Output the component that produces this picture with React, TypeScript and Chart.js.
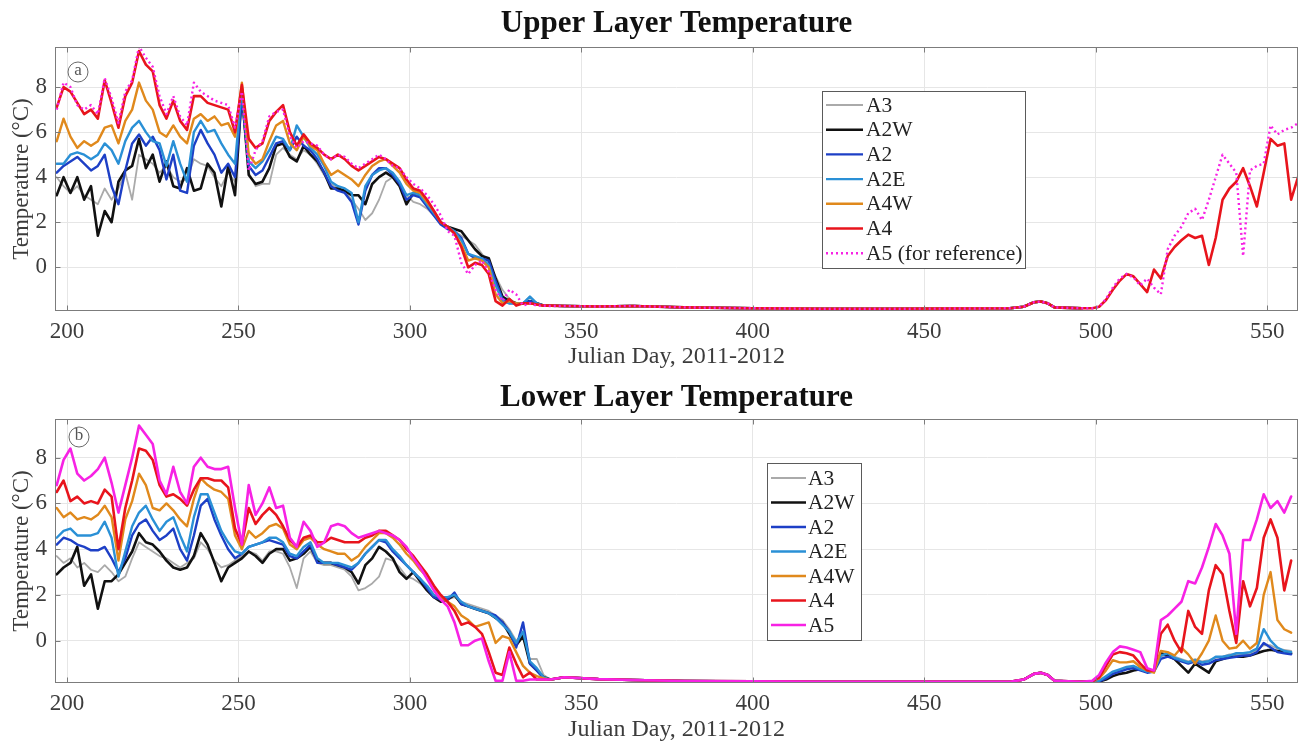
import React, { useEffect, useRef } from "react";
import { Chart, registerables } from "chart.js";

Chart.register(...registerables);

// ---------- shared x grids (Julian day) ----------
const DAYS_AUTUMN = [
  197, 199, 201, 203, 205, 207, 209, 211, 213, 215,
  217, 219, 221, 223, 225, 227, 229, 231, 233, 235,
  237, 239, 241, 243, 245, 247, 249, 251, 253, 255,
  257, 259, 261, 263, 265, 267, 269, 271, 273, 275,
  277, 279, 281, 283, 285, 287, 289, 291, 293, 295,
  297, 299, 301, 303, 305, 307, 309, 311, 313, 315,
  317, 319, 321, 323, 325, 327, 329, 331, 333, 335,
  337, 339, 341,
];
const DAYS_WINTER = [345, 355, 365, 380, 400, 420, 440, 460, 475, 479, 482, 484, 486, 488, 492, 496];
const DAYS_SPRING = [
  499, 501, 503, 505, 507, 509, 511, 513, 515, 517,
  519, 521, 523, 525, 527, 529, 531, 533, 535, 537,
  539, 541, 543, 545, 547, 549, 551, 553, 555, 557,
  559,
];

const X_TICKS = [200, 250, 300, 350, 400, 450, 500, 550];
const Y_TICKS = [0, 2, 4, 6, 8];

// ---------- Upper layer ----------
const U_A3 = [
  4.0, 3.6, 3.3, 3.6, 3.2, 3.0, 2.8, 3.5, 3.0, 3.5,
  4.2, 3.0, 5.0, 4.8, 4.6, 4.2, 4.5, 4.0, 3.8, 3.9,
  4.8, 4.6, 4.5, 4.0, 3.6, 4.2, 3.8, 7.4, 4.2, 3.6,
  3.7, 3.7, 5.0, 5.3, 5.0, 4.8, 5.2, 5.0, 4.6, 4.1,
  3.7, 3.5, 3.4, 3.0, 2.6, 2.1, 2.4, 3.0, 3.8, 4.0,
  3.7, 3.2, 2.9, 2.8, 2.6, 2.3, 2.0, 1.8, 1.6, 1.4,
  1.2, 1.0, 0.6, 0.2, -0.4, -1.0, -1.4, -1.6, -1.6, -1.3,
  -1.6, -1.7, -1.7,
];
const U_A2W = [
  3.2, 4.0, 3.3, 4.0, 3.0, 3.6, 1.4, 2.5, 2.0, 3.8,
  4.3, 4.5, 5.7, 4.4, 5.0, 3.8, 4.7, 3.6, 3.5, 4.4,
  3.4, 3.5, 4.6, 4.2, 2.7, 4.5, 3.2, 7.8, 4.1, 3.7,
  3.8, 4.4, 5.4, 5.5, 4.9, 4.7, 5.4, 5.0, 4.7, 4.2,
  3.5, 3.5, 3.4, 3.2, 3.2, 2.8, 3.7, 4.0, 4.2, 4.0,
  3.6, 2.8, 3.3, 3.2, 2.9, 2.4, 2.0, 1.8, 1.7, 1.6,
  1.2, 0.8, 0.5, 0.4, -0.5, -1.3, -1.5, -1.6, -1.6, -1.5,
  -1.6, -1.7, -1.7,
];
const U_A2 = [
  4.2, 4.5, 4.7, 4.9, 4.6, 4.3, 4.5, 5.0, 3.6, 2.8,
  4.3, 5.5, 5.9, 5.4, 5.8, 5.2, 3.9, 5.0, 3.4, 3.3,
  5.4, 6.1, 5.5, 5.0, 4.2, 4.6, 4.0, 7.6, 4.5, 4.1,
  4.3, 4.9, 5.5, 5.6, 5.2, 5.8, 5.4, 5.2, 4.8, 4.2,
  3.6, 3.4, 3.3, 2.9, 1.9, 3.4, 4.1, 4.4, 4.4, 4.1,
  3.7, 3.0, 3.2, 3.1, 2.7, 2.3, 1.9, 1.7, 1.6, 1.3,
  0.6, 0.4, 0.4, 0.3, -0.6, -1.4, -1.6, -1.6, -1.6, -1.5,
  -1.6, -1.7, -1.7,
];
const U_A2E = [
  4.6, 4.6, 5.0, 5.1, 5.0, 4.8, 5.0, 5.5, 5.2, 4.6,
  5.6, 6.2, 6.5, 6.0, 5.6, 5.5, 4.5, 5.6, 4.6, 3.8,
  6.0, 6.5, 6.0, 6.1, 5.5, 5.0, 4.6, 8.0, 4.7, 4.4,
  4.7, 5.2, 5.8, 5.7, 5.2, 6.3, 5.8, 5.3, 5.0, 4.5,
  3.8, 3.6, 3.5, 3.3, 2.0, 3.6, 4.1, 4.3, 4.4, 4.2,
  3.8, 3.2, 3.3, 3.2, 2.8, 2.4, 2.0, 1.8, 1.6, 1.2,
  0.6, 0.5, 0.4, 0.1, -0.8, -1.5, -1.6, -1.6, -1.6, -1.3,
  -1.6, -1.7, -1.7,
];
const U_A4W = [
  5.6, 6.6, 5.8, 5.3, 5.6, 5.4, 5.6, 6.2, 6.3, 5.5,
  6.5, 7.0, 8.2, 7.4, 7.0, 6.0, 5.8, 6.3, 5.8, 5.5,
  6.6, 6.8, 6.5, 6.7, 6.3, 6.4, 5.8, 8.2, 5.0, 4.6,
  4.8, 5.6, 6.3, 6.5, 5.5, 5.2, 5.8, 5.4, 5.2, 4.6,
  4.1, 4.3, 4.1, 3.9, 3.6, 4.1, 4.5, 4.7, 4.8, 4.5,
  4.2, 3.7, 3.4, 3.3, 2.9, 2.5, 2.0, 1.8, 1.5, 1.0,
  0.3, 0.4, 0.3, 0.0, -1.2, -1.6, -1.5, -1.6, -1.6, -1.6,
  -1.65, -1.7, -1.7,
];
const U_A4 = [
  7.1, 8.0, 7.8, 7.3, 6.8, 7.0, 6.6, 8.3, 7.3, 6.2,
  7.6, 8.2, 9.6, 9.0, 8.7, 7.2, 6.6, 7.4, 6.5, 6.1,
  7.6, 7.6, 7.3, 7.2, 7.1, 7.0, 6.0, 8.1, 5.7, 5.3,
  5.5, 6.5, 6.9, 7.2, 6.0, 5.4, 5.9, 5.5, 5.3, 5.0,
  4.8, 5.0, 4.8, 4.5, 4.3, 4.5, 4.7, 4.9, 4.8, 4.6,
  4.4, 3.9, 3.5, 3.4, 3.0, 2.5, 2.0, 1.8, 1.5, 0.9,
  0.0, 0.2, 0.1, -0.3, -1.5, -1.7, -1.4, -1.7, -1.6, -1.6,
  -1.65, -1.7, -1.7,
];
const U_A5 = [
  7.0, 8.2, 8.0, 7.2, 7.0, 7.2, 6.8, 8.4, 7.5, 6.4,
  7.8, 8.3, 9.8, 9.3, 8.9, 7.6, 6.8, 7.6, 6.7, 6.3,
  8.2, 7.8, 7.6, 7.4, 7.3, 7.2, 6.2, 7.8, 4.3, 5.2,
  5.6, 6.7, 6.9, 7.0, 5.8, 5.3, 5.6, 5.5, 5.4, 5.0,
  4.8, 5.0, 4.9, 4.6, 4.4, 4.6, 4.8, 5.0, 4.8, 4.5,
  4.4, 4.0, 3.7, 3.5, 3.2, 2.8, 2.3, 1.6, 1.4, 0.2,
  -0.3, 0.1, 0.3, -0.2, -1.0, -1.5, -1.0, -1.2, -1.7, -1.6,
  -1.7, -1.7, -1.72,
];
const U_WINTER = [-1.72, -1.74, -1.72, -1.78, -1.82, -1.84, -1.84, -1.83, -1.82, -1.75, -1.55, -1.52, -1.6, -1.78, -1.8, -1.82];
const U_A4_SPRING = [
  -1.82, -1.75, -1.45, -1.0, -0.6, -0.3, -0.4, -0.75, -1.1, -0.1,
  -0.5, 0.5, 0.9, 1.2, 1.45, 1.3, 1.4, 0.1, 1.3, 3.0,
  3.5, 3.8, 4.4, 3.6, 2.7, 4.2, 5.7, 5.4, 5.5, 3.0,
  4.0,
];
const U_A5_SPRING = [
  -1.82, -1.75, -1.4, -0.9, -0.5, -0.3, -0.45, -0.8, -0.5, -0.9,
  -1.2, 0.8, 1.4, 1.8, 2.4, 2.6, 2.1, 3.0, 4.0, 5.0,
  4.6, 4.2, 0.5, 4.3, 4.5, 4.6, 6.3, 5.9, 6.1, 6.2,
  6.4,
];

// ---------- Lower layer ----------
const L_A3 = [
  3.7, 3.4, 3.6, 3.2, 3.4, 3.1, 3.0, 3.3, 3.0, 2.6,
  2.8, 3.6, 4.3, 4.1, 3.9, 3.7, 3.6, 3.4, 3.2, 3.4,
  3.6, 4.3, 4.0, 3.5, 3.2, 3.3, 3.5, 3.7, 3.9, 3.8,
  3.5, 3.9, 3.9, 3.8, 3.2, 2.3, 3.6, 3.9, 3.4, 3.3,
  3.3, 3.2, 3.1, 2.8, 2.2, 2.3, 2.5, 2.8, 3.6, 3.5,
  3.2, 2.8, 2.7, 2.5, 2.2, 2.0, 1.8, 1.8, 1.9, 1.7,
  1.6, 1.5, 1.4, 1.3, 1.1, 0.9, 0.5, 0.0, 0.3, -0.8,
  -0.8, -1.5, -1.7,
];
const L_A2W = [
  2.9, 3.2, 3.4, 4.1, 2.4, 2.9, 1.4, 2.6, 2.6, 2.9,
  3.4, 3.9, 4.7, 4.3, 4.2, 3.9, 3.5, 3.2, 3.1, 3.2,
  3.7, 4.7, 4.2, 3.4, 2.6, 3.2, 3.4, 3.6, 3.9, 3.7,
  3.4, 3.8, 4.0, 4.0, 3.5, 3.6, 3.8, 4.1, 3.5, 3.4,
  3.4, 3.3, 3.2, 3.0, 2.5, 3.3, 3.6, 4.1, 3.9, 3.6,
  3.0, 2.7, 3.0, 2.6, 2.2, 1.9, 1.7, 1.8, 2.0, 1.6,
  1.5, 1.4, 1.3, 1.2, 1.0, 0.8, 0.3, -0.2, 0.2, -1.0,
  -1.3, -1.6, -1.7,
];
const L_A2 = [
  4.2, 4.5, 4.4, 4.2, 4.1, 3.95, 3.95, 4.1, 3.6, 3.0,
  3.6, 4.6, 5.1, 5.3, 4.8, 4.4, 4.6, 4.9, 4.0, 3.5,
  4.6, 5.9, 6.2, 5.3, 4.6, 4.0, 3.6, 3.8, 4.1, 4.2,
  4.3, 4.4, 4.3, 4.2, 3.7, 3.6, 3.9, 4.2, 3.4, 3.4,
  3.4, 3.3, 3.2, 3.1, 3.4, 3.8, 4.1, 4.4, 4.3, 3.9,
  3.6, 3.3, 3.0, 2.7, 2.3, 1.9, 1.8, 1.8, 2.1, 1.6,
  1.5, 1.4, 1.3, 1.2, 1.1, 0.8, 0.4, -0.3, 0.8, -1.0,
  -1.3, -1.65, -1.7,
];
const L_A2E = [
  4.5, 4.8, 4.9, 4.6, 4.6, 4.6, 4.7, 5.2, 4.5, 2.8,
  3.9, 5.0, 5.6, 5.9, 5.3, 4.8, 5.2, 5.4, 4.6, 3.9,
  5.4, 6.4, 6.4, 5.6, 4.8, 4.3, 3.9, 3.8, 4.1, 4.2,
  4.3, 4.5, 4.5, 4.3, 3.8, 3.7, 4.1, 4.3, 3.6, 3.4,
  3.4, 3.4, 3.3, 3.2, 3.4, 3.8, 4.1, 4.4, 4.4, 4.0,
  3.7, 3.3, 3.0, 2.7, 2.4, 2.0, 1.9, 1.9, 2.0, 1.7,
  1.5, 1.4, 1.3, 1.2, 1.0, 0.7, 0.4, -0.1, 0.4, -0.9,
  -1.2, -1.6, -1.7,
];
const L_A4W = [
  5.8, 5.4, 5.6, 5.3, 5.4, 5.3, 5.5, 5.9, 5.4, 3.5,
  5.3, 6.1, 7.3, 6.8, 5.8, 5.7, 6.0, 5.7, 5.3, 5.0,
  6.2, 7.1, 6.8, 6.6, 6.5, 6.2, 4.6, 4.0, 4.8, 4.5,
  4.7, 5.0, 5.1, 4.9, 4.2, 4.0, 4.4, 4.5, 4.2, 4.0,
  3.9, 3.8, 3.8, 3.5, 3.7, 4.1, 4.4, 4.7, 4.7, 4.5,
  4.2, 3.8, 3.5, 3.1, 2.8, 2.3, 1.9, 1.7, 1.5, 1.1,
  0.9, 0.6, 0.7, 0.8, -0.1, 0.2, 0.1, -0.5, -1.1, -1.4,
  -1.55, -1.65, -1.7,
];
const L_A4 = [
  6.5, 7.0, 6.1, 6.3, 6.0, 6.1, 6.0, 6.6, 6.3, 4.0,
  5.8, 7.0, 8.4, 8.3, 7.9, 6.8, 6.3, 6.4, 6.2, 5.9,
  6.6, 7.1, 7.1, 7.0, 7.0, 6.7, 4.9, 4.2, 5.8, 5.1,
  5.5, 5.8, 5.5, 5.0, 4.4, 4.1, 4.5, 4.6, 4.3, 4.3,
  4.5, 4.4, 4.3, 4.3, 4.3, 4.5, 4.6, 4.8, 4.8, 4.6,
  4.4, 4.0, 3.7, 3.3, 2.9, 2.4, 2.0, 1.7, 1.3, 0.7,
  0.8, 0.6, 0.3, -0.5, -1.4, -1.5, -0.3, -1.0, -1.6, -1.4,
  -1.7, -1.7, -1.7,
];
const L_A5 = [
  6.8, 7.9, 8.4, 7.3, 7.0, 7.2, 7.5, 8.0, 6.9, 5.6,
  6.8, 8.0, 9.4, 9.0, 8.6, 7.0, 6.4, 7.6, 6.5, 6.0,
  7.6, 8.0, 7.6, 7.5, 7.5, 7.6, 5.8, 4.2, 6.8, 5.5,
  6.0, 6.7, 5.8, 5.9, 4.5, 4.1, 5.2, 4.8, 4.1, 4.3,
  5.0, 5.1, 5.0, 4.7, 4.5, 4.6, 4.7, 4.8, 4.7, 4.6,
  4.4, 4.1, 3.6, 3.2, 2.7, 2.2, 1.8, 1.5, 0.8, -0.2,
  -0.2, 0.0, 0.1, -0.9, -1.75, -1.75, -0.5, -1.75, -1.75, -1.7,
  -1.7, -1.7, -1.7,
];
const L_WINTER = [-1.6, -1.68, -1.72, -1.76, -1.78, -1.8, -1.8, -1.8, -1.8, -1.7, -1.45, -1.4, -1.5, -1.75, -1.78, -1.8];
const L_A3_SPRING = [
  -1.8, -1.75, -1.6, -1.4, -1.3, -1.2, -1.15, -1.2, -1.3, -1.3,
  -0.7, -0.6, -0.7, -0.8, -0.9, -0.8, -0.9, -0.85, -0.75, -0.7,
  -0.6, -0.6, -0.6, -0.55, -0.4, -0.2, -0.2, -0.35, -0.4, -0.45,
];
const L_A2W_SPRING = [
  -1.8, -1.78, -1.7, -1.55, -1.45, -1.4, -1.3, -1.25, -1.35, -1.3,
  -0.55, -0.65, -0.8, -1.1, -1.4, -1.0, -1.2, -1.4, -0.9, -0.8,
  -0.7, -0.7, -0.7, -0.65, -0.55, -0.45, -0.4, -0.45, -0.5, -0.55,
];
const L_A2_SPRING = [
  -1.8, -1.78, -1.65, -1.45, -1.35, -1.25, -1.2, -1.3, -1.4, -1.35,
  -0.8, -0.7, -0.8, -0.9, -1.0, -0.9, -1.05, -1.0, -0.85, -0.8,
  -0.75, -0.7, -0.65, -0.65, -0.5, -0.1, -0.3, -0.5, -0.55, -0.6,
];
const L_A2E_SPRING = [
  -1.8, -1.75, -1.55, -1.35, -1.25, -1.15, -1.1, -1.25, -1.35, -1.3,
  -0.65, -0.55, -0.75, -0.85, -0.95, -0.85, -0.95, -0.9, -0.7, -0.7,
  -0.65, -0.55, -0.55, -0.5, -0.35, 0.5, 0.0, -0.3, -0.45, -0.5,
];
const L_A4W_SPRING = [
  -1.78, -1.65, -1.3, -0.85, -0.95, -0.95, -0.9, -1.15, -1.3, -1.4,
  -0.45, -0.5, -0.65, -0.3, -0.6, -1.0, -0.55, 0.0, 1.1, 0.0,
  -0.35, -0.3, 0.0, -0.35, -0.1, 2.0, 3.0, 0.9, 0.5, 0.35,
];
const L_A4_SPRING = [
  -1.78, -1.6, -1.1, -0.6, -0.5, -0.55, -0.65, -1.0, -1.3, -1.3,
  0.3, 0.7, 0.0, -0.5, 1.3, 0.6, 0.3, 2.2, 3.3, 2.9,
  1.3, -0.1, 2.6, 1.5, 2.3, 4.5, 5.3, 4.5, 2.2, 3.5,
];
const L_A5_SPRING = [
  -1.75, -1.5, -0.95, -0.5, -0.25, -0.3, -0.4, -0.5, -1.2, -1.3,
  0.9, 1.1, 1.4, 1.7, 2.6, 2.5, 3.2, 4.1, 5.1, 4.6,
  3.8, 0.3, 4.4, 4.4, 5.3, 6.4, 5.8, 6.1, 5.6, 6.3,
];

// ---------- helpers ----------
const FONT = '"Liberation Serif", "Times New Roman", serif';
const TEXT = "#3c3c3c";

type Pt = { x: number; y: number };
const pts = (days: number[], vals: number[]): Pt[] => vals.map((v, i) => ({ x: days[i], y: v }));

type Series = { label: string; color: string; width: number; dash?: number[]; order: number; data: Pt[] };
type Panel = {
  title: string;
  yMin: number;
  yMax: number;
  padTop: number;
  titleY: number;
  letter: string;
  letterX: number;
  letterY: number;
  legend: { x: number; y: number; w: number; h: number; row0: number; step: number; x1: number; x2: number; tx: number };
  series: Series[];
};

const C_A3 = "#aaaaaa";
const C_A2W = "#111111";
const C_A2 = "#1d3fc6";
const C_A2E = "#2a90d6";
const C_A4W = "#e0891c";
const C_A4 = "#e8141c";
const C_A5 = "#f722e4";

const UPPER: Panel = {
  title: "Upper Layer Temperature",
  yMin: -1.94,
  yMax: 9.78,
  padTop: 47,
  titleY: 24,
  letter: "a",
  letterX: 78,
  letterY: 72,
  legend: { x: 822, y: 91, w: 203, h: 177, row0: 105, step: 24.7, x1: 826, x2: 863, tx: 866 },
  series: [
    { label: "A3", color: C_A3, width: 1.8, order: 6, data: [...pts(DAYS_AUTUMN, U_A3), ...pts(DAYS_WINTER, U_WINTER)] },
    { label: "A2W", color: C_A2W, width: 2.6, order: 5, data: [...pts(DAYS_AUTUMN, U_A2W), ...pts(DAYS_WINTER, U_WINTER)] },
    { label: "A2", color: C_A2, width: 2.4, order: 4, data: [...pts(DAYS_AUTUMN, U_A2), ...pts(DAYS_WINTER, U_WINTER)] },
    { label: "A2E", color: C_A2E, width: 2.4, order: 3, data: [...pts(DAYS_AUTUMN, U_A2E), ...pts(DAYS_WINTER, U_WINTER)] },
    { label: "A4W", color: C_A4W, width: 2.4, order: 2, data: [...pts(DAYS_AUTUMN, U_A4W), ...pts(DAYS_WINTER, U_WINTER)] },
    { label: "A4", color: C_A4, width: 2.6, order: 1, data: [...pts(DAYS_AUTUMN, U_A4), ...pts(DAYS_WINTER, U_WINTER), ...pts(DAYS_SPRING, U_A4_SPRING)] },
    { label: "A5 (for reference)", color: C_A5, width: 2.4, dash: [2, 3], order: 0, data: [...pts(DAYS_AUTUMN, U_A5), ...pts(DAYS_WINTER, U_WINTER), ...pts(DAYS_SPRING, U_A5_SPRING)] },
  ],
};

const LOWER: Panel = {
  title: "Lower Layer Temperature",
  yMin: -1.85,
  yMax: 9.69,
  padTop: 46,
  titleY: 25,
  letter: "b",
  letterX: 79,
  letterY: 64,
  legend: { x: 767, y: 90, w: 94, h: 177, row0: 105, step: 24.5, x1: 771, x2: 806, tx: 808 },
  series: [
    { label: "A3", color: C_A3, width: 1.8, order: 6, data: [...pts(DAYS_AUTUMN, L_A3), ...pts(DAYS_WINTER, L_WINTER), ...pts(DAYS_SPRING, L_A3_SPRING)] },
    { label: "A2W", color: C_A2W, width: 2.6, order: 5, data: [...pts(DAYS_AUTUMN, L_A2W), ...pts(DAYS_WINTER, L_WINTER), ...pts(DAYS_SPRING, L_A2W_SPRING)] },
    { label: "A2", color: C_A2, width: 2.4, order: 4, data: [...pts(DAYS_AUTUMN, L_A2), ...pts(DAYS_WINTER, L_WINTER), ...pts(DAYS_SPRING, L_A2_SPRING)] },
    { label: "A2E", color: C_A2E, width: 2.4, order: 3, data: [...pts(DAYS_AUTUMN, L_A2E), ...pts(DAYS_WINTER, L_WINTER), ...pts(DAYS_SPRING, L_A2E_SPRING)] },
    { label: "A4W", color: C_A4W, width: 2.4, order: 2, data: [...pts(DAYS_AUTUMN, L_A4W), ...pts(DAYS_WINTER, L_WINTER), ...pts(DAYS_SPRING, L_A4W_SPRING)] },
    { label: "A4", color: C_A4, width: 2.6, order: 1, data: [...pts(DAYS_AUTUMN, L_A4), ...pts(DAYS_WINTER, L_WINTER), ...pts(DAYS_SPRING, L_A4_SPRING)] },
    { label: "A5", color: C_A5, width: 2.6, order: 0, data: [...pts(DAYS_AUTUMN, L_A5), ...pts(DAYS_WINTER, L_WINTER), ...pts(DAYS_SPRING, L_A5_SPRING)] },
  ],
};

const CANVAS_W = 1303;
const CANVAS_H = 373;

function decorPlugin(panel: Panel) {
  return {
    id: "decor",
    beforeDraw(chart: any) {
      const ctx = chart.ctx;
      ctx.save();
      ctx.fillStyle = "#ffffff";
      ctx.fillRect(0, 0, chart.width, chart.height);
      ctx.restore();
    },
    afterDraw(chart: any) {
      const { ctx, chartArea: a, scales } = chart;
      ctx.save();
      // axes box
      ctx.strokeStyle = "#7c7c7c";
      ctx.lineWidth = 1;
      const l = Math.round(a.left) + 0.5;
      const t = Math.round(a.top) + 0.5;
      const r = Math.round(a.right) - 0.5;
      const b = Math.round(a.bottom) - 0.5;
      ctx.strokeRect(l, t, r - l, b - t);
      // inward tick marks
      ctx.beginPath();
      for (const v of X_TICKS) {
        const px = Math.round(scales.x.getPixelForValue(v)) + 0.5;
        ctx.moveTo(px, b);
        ctx.lineTo(px, b - 5);
        ctx.moveTo(px, t);
        ctx.lineTo(px, t + 5);
      }
      for (const v of Y_TICKS) {
        const py = Math.round(scales.y.getPixelForValue(v)) + 0.5;
        ctx.moveTo(l, py);
        ctx.lineTo(l + 5, py);
        ctx.moveTo(r, py);
        ctx.lineTo(r - 5, py);
      }
      ctx.stroke();

      // title
      ctx.fillStyle = "#111111";
      ctx.font = `bold 31px ${FONT}`;
      ctx.textAlign = "center";
      ctx.textBaseline = "middle";
      ctx.fillText(panel.title, (a.left + a.right) / 2, panel.titleY);

      // circled panel letter
      ctx.strokeStyle = "#6a6a6a";
      ctx.lineWidth = 1;
      ctx.beginPath();
      ctx.arc(panel.letterX, panel.letterY, 10, 0, Math.PI * 2);
      ctx.stroke();
      ctx.fillStyle = "#555555";
      ctx.font = `17px ${FONT}`;
      ctx.fillText(panel.letter, panel.letterX, panel.letterY - 1);

      // legend
      const L = panel.legend;
      ctx.fillStyle = "#ffffff";
      ctx.fillRect(L.x, L.y, L.w, L.h);
      ctx.strokeStyle = "#5a5a5a";
      ctx.lineWidth = 1;
      ctx.strokeRect(L.x + 0.5, L.y + 0.5, L.w, L.h);
      panel.series.forEach((s, i) => {
        const y = L.row0 + i * L.step;
        ctx.strokeStyle = s.color;
        ctx.lineWidth = s.width;
        ctx.setLineDash(s.dash || []);
        ctx.beginPath();
        ctx.moveTo(L.x1, y);
        ctx.lineTo(L.x2, y);
        ctx.stroke();
        ctx.setLineDash([]);
        ctx.fillStyle = "#222222";
        ctx.font = `21.5px ${FONT}`;
        ctx.textAlign = "left";
        ctx.textBaseline = "middle";
        ctx.fillText(s.label, L.tx, y + 1);
      });
      ctx.restore();
    },
  };
}

function makeConfig(panel: Panel): any {
  return {
    type: "line",
    data: {
      datasets: panel.series.map((s) => ({
        label: s.label,
        data: s.data,
        borderColor: s.color,
        backgroundColor: s.color,
        borderWidth: s.width,
        borderDash: s.dash || [],
        borderJoinStyle: "round",
        borderCapStyle: s.dash ? "butt" : "round",
        pointRadius: 0,
        pointHoverRadius: 0,
        tension: 0,
        fill: false,
        order: s.order,
      })),
    },
    options: {
      responsive: false,
      maintainAspectRatio: false,
      animation: false,
      events: [],
      layout: { padding: { top: panel.padTop, right: 5, bottom: 0, left: 0 } },
      plugins: {
        legend: { display: false },
        tooltip: { enabled: false },
        title: { display: false },
      },
      scales: {
        x: {
          type: "linear",
          min: 196.5,
          max: 559,
          afterBuildTicks: (s: any) => {
            s.ticks = X_TICKS.map((v) => ({ value: v }));
          },
          afterFit: (s: any) => {
            s.height = CANVAS_H - (panel.padTop + 264);
          },
          grid: { color: "#e6e6e6", lineWidth: 1, drawTicks: false },
          border: { display: false },
          ticks: {
            padding: 7,
            color: TEXT,
            autoSkip: false,
            maxRotation: 0,
            font: { family: FONT, size: 23 },
            callback: (v: any) => String(v),
          },
          title: {
            display: true,
            text: "Julian Day, 2011-2012",
            color: TEXT,
            font: { family: FONT, size: 24 },
            padding: { top: 0, bottom: 2 },
          },
        },
        y: {
          type: "linear",
          min: panel.yMin,
          max: panel.yMax,
          afterBuildTicks: (s: any) => {
            s.ticks = Y_TICKS.map((v) => ({ value: v }));
          },
          afterFit: (s: any) => {
            s.width = 55;
          },
          grid: { color: "#e6e6e6", lineWidth: 1, drawTicks: false },
          border: { display: false },
          ticks: {
            padding: 8,
            color: TEXT,
            font: { family: FONT, size: 23 },
            callback: (v: any) => String(v),
          },
          title: {
            display: true,
            text: "Temperature (°C)",
            color: TEXT,
            font: { family: FONT, size: 23 },
            padding: { top: 8, bottom: 0 },
          },
        },
      },
    },
    plugins: [decorPlugin(panel)],
  };
}

function PanelChart({ panel, top }: { panel: Panel; top: number }) {
  const ref = useRef<HTMLCanvasElement | null>(null);
  useEffect(() => {
    if (!ref.current) return;
    const chart = new Chart(ref.current, makeConfig(panel));
    return () => chart.destroy();
  }, [panel]);
  return (
    <canvas
      ref={ref}
      width={CANVAS_W}
      height={CANVAS_H}
      style={{ position: "absolute", left: 0, top, width: CANVAS_W, height: CANVAS_H }}
    />
  );
}

export default function App() {
  return (
    <div
      style={{
        position: "absolute",
        left: 0,
        top: 0,
        width: CANVAS_W,
        height: 746,
        background: "#ffffff",
        overflow: "hidden",
      }}
    >
      <PanelChart panel={UPPER} top={0} />
      <PanelChart panel={LOWER} top={373} />
    </div>
  );
}
